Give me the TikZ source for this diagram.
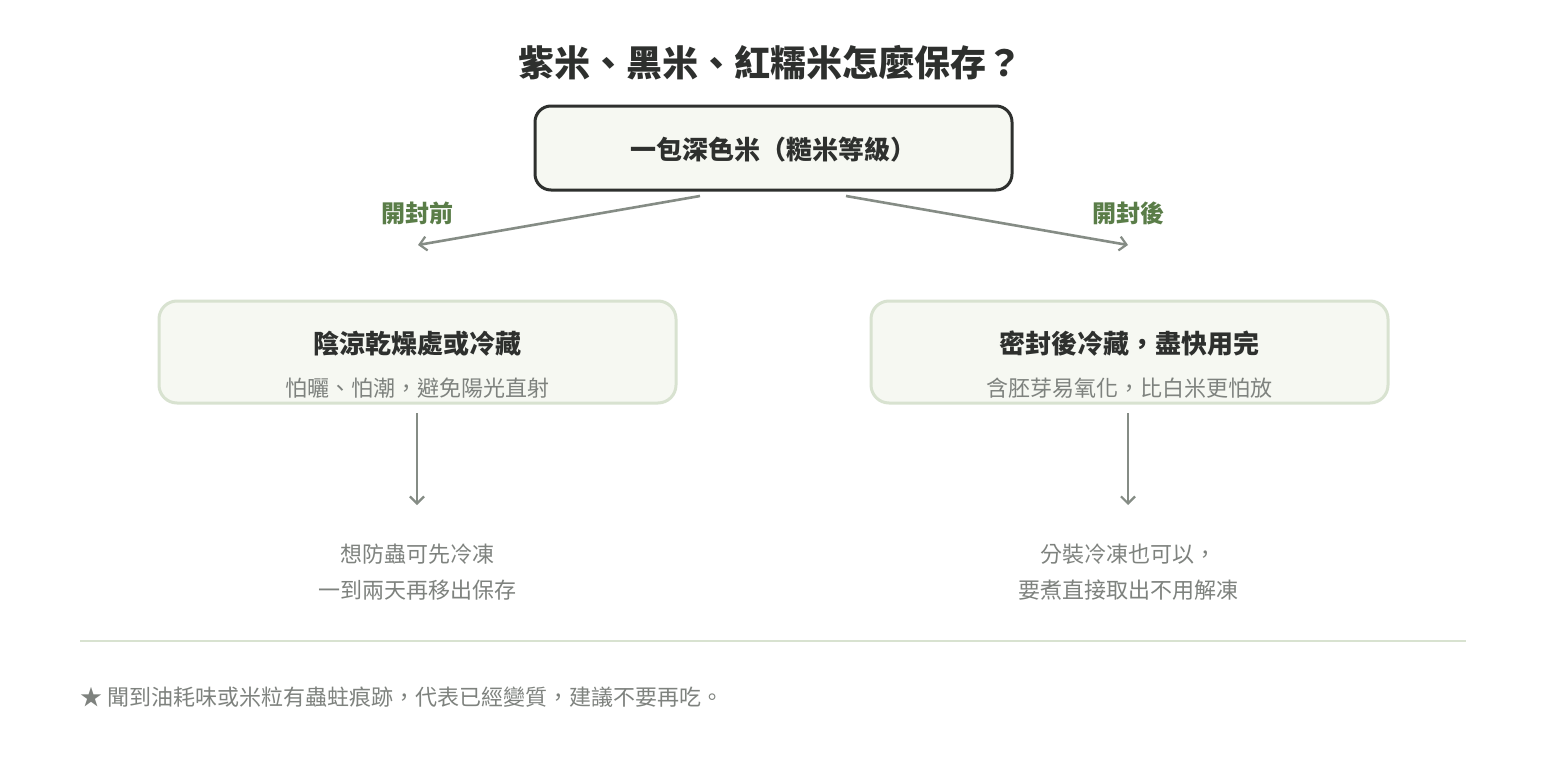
\documentclass[tikz,border=0pt]{standalone}
\usepackage{fontspec}
\setmainfont{Noto Sans CJK TC}
\usetikzlibrary{arrows.meta}
\definecolor{dark}{HTML}{2E302E}
\definecolor{boxfill}{HTML}{F6F8F2}
\definecolor{lightb}{HTML}{D8E2D0}
\definecolor{arr}{HTML}{858C85}
\definecolor{grn}{HTML}{5A7D48}
\definecolor{gtxt}{HTML}{7E827E}
\tikzset{
 conn/.style={draw=arr,line width=2.6pt,-{Straight Barb[length=7pt,width=14pt,line width=2.2pt]}},
 lbl/.style={text=grn,font=\bfseries\fontsize{24}{28}\selectfont},
 sub/.style={text=gtxt,font=\fontsize{22}{26}\selectfont},
 head/.style={text=dark,font=\bfseries\fontsize{26}{30}\selectfont},
}
\begin{document}
\begin{tikzpicture}[x=1pt,y=-1pt]
\useasboundingbox[fill=white] (0,0) rectangle (1546,760);
\node[text=dark,font=\bfseries\fontsize{36}{40}\selectfont] (title) at (770,63) {紫米、黑米、紅糯米怎麼保存？};
\draw[draw=dark,line width=3pt,fill=boxfill,rounded corners=16pt] (535,106) rectangle (1012,190);
\node[head] (top) at (773,150) {一包深色米（糙米等級）};
\coordinate (tl) at (700,196); \coordinate (tr) at (846,196);
\coordinate (el) at (418,245); \coordinate (er) at (1128,245);
\draw[conn] (tl) -- (el);
\draw[conn] (tr) -- (er);
\node[lbl] (l1) at (417,213) {開封前};
\node[lbl] (l2) at (1128,213) {開封後};
\draw[draw=lightb,line width=3pt,fill=boxfill,rounded corners=18pt] (159,301) rectangle (676,403);
\draw[draw=lightb,line width=3pt,fill=boxfill,rounded corners=18pt] (871,301) rectangle (1388,403);
\node[head] (lh) at (417,344) {陰涼乾燥處或冷藏};
\node[sub] (ls) at (417,388) {怕曬、怕潮，避免陽光直射};
\node[head] (rh) at (1129,344) {密封後冷藏，盡快用完};
\node[sub] (rs) at (1129,388) {含胚芽易氧化，比白米更怕放};
\coordinate (ld1) at (417,413); \coordinate (ld2) at (417,505);
\coordinate (rd1) at (1128,413); \coordinate (rd2) at (1128,505);
\draw[conn] (ld1) -- (ld2);
\draw[conn] (rd1) -- (rd2);
\node[sub,align=center] (lb1) at (417,554) {想防蟲可先冷凍};
\node[sub] (lb2) at (417,590) {一到兩天再移出保存};
\node[sub] (rb1) at (1128,554) {分裝冷凍也可以，};
\node[sub] (rb2) at (1128,590) {要煮直接取出不用解凍};
\draw[lightb,line width=1.5pt] (80,641) -- (1466,641);
\node[sub,anchor=west,inner sep=0pt] (foot) at (80,697) {★ 聞到油耗味或米粒有蟲蛀痕跡，代表已經變質，建議不要再吃。};
\end{tikzpicture}
\end{document}
